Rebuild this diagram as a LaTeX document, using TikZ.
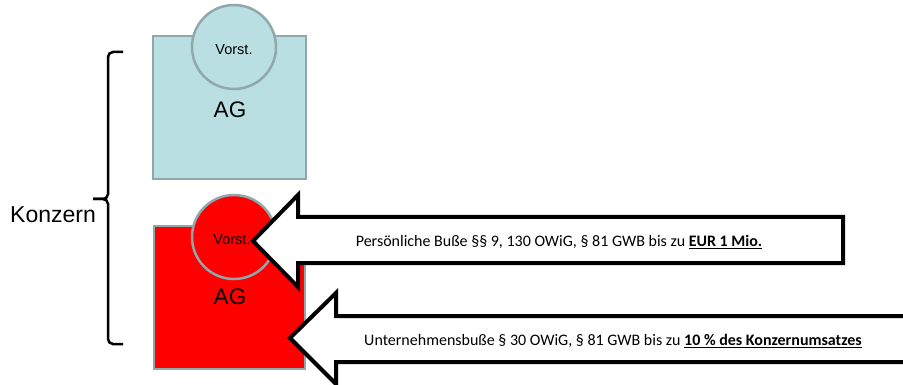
\documentclass[tikz,border=0pt]{standalone}
\usepackage{fontspec}
\setmainfont{Liberation Sans}
\newfontfamily\calfont{Carlito}
\definecolor{agblue}{HTML}{B9DFE2}
\definecolor{agred}{HTML}{FF0000}
\definecolor{agedge}{HTML}{8FA8AC}
\tikzset{
  company/.style={draw=agedge, line width=2.5pt},
  board/.style={circle, draw=agedge, line width=2.5pt, minimum size=84pt, inner sep=0pt},
  blockarrow/.style={draw=black, fill=white, line width=4pt, line join=miter},
  finetext/.style={font=\calfont\fontsize{16}{19}\selectfont},
  bracket/.style={draw=black, line width=2.5pt, rounded corners=5pt}
}
\begin{document}
\begin{tikzpicture}[x=1pt, y=-1pt]
\useasboundingbox (0,0) rectangle (903,385);
\clip (0,0) rectangle (903,385);

% parent company
\filldraw[company, fill=agblue] (153,36) rectangle (306,179);
\node[board, fill=agblue] (vorstA) at (234,47) {};
\node[font=\fontsize{14.5}{16}\selectfont] (vorstAtxt) at (234,50) {Vorst.};
\node[font=\fontsize{22.5}{26}\selectfont] (agA) at (230,110) {AG};

% subsidiary
\filldraw[company, fill=agred] (154,226) rectangle (305,369);
\node[board, fill=agred] (vorstB) at (234,237) {};
\node[font=\fontsize{14.5}{16}\selectfont] (vorstBtxt) at (232,240) {Vorst.};
\node[font=\fontsize{22.5}{26}\selectfont] (agB) at (230,297) {AG};

% group bracket
\draw[bracket] (123,52) -- (108,52) -- (108,199) -- (93,199);
\draw[bracket] (93,199) -- (108,199) -- (108,344) -- (123,344);
\node[font=\fontsize{23}{26}\selectfont] (konzern) at (53,215) {Konzern};

% personal fine
\draw[blockarrow] (843,217) -- (298,217) -- (298,195) -- (253,241)
  -- (298,287) -- (298,263) -- (843,263) -- cycle;
\node[finetext] (fine1) at (559,242)
  {Persönliche Buße §§ 9, 130 OWiG, § 81 GWB bis zu \underline{\textbf{EUR 1 Mio.}}};

% corporate fine
\draw[blockarrow] (930,316) -- (336,316) -- (336,293) -- (290,338)
  -- (336,384) -- (336,362) -- (930,362) -- cycle;
\node[finetext] (fine2) at (613,341)
  {Unternehmensbuße § 30 OWiG, § 81 GWB bis zu \underline{\textbf{10 \% des Konzernumsatzes}}};
\end{tikzpicture}
\end{document}
